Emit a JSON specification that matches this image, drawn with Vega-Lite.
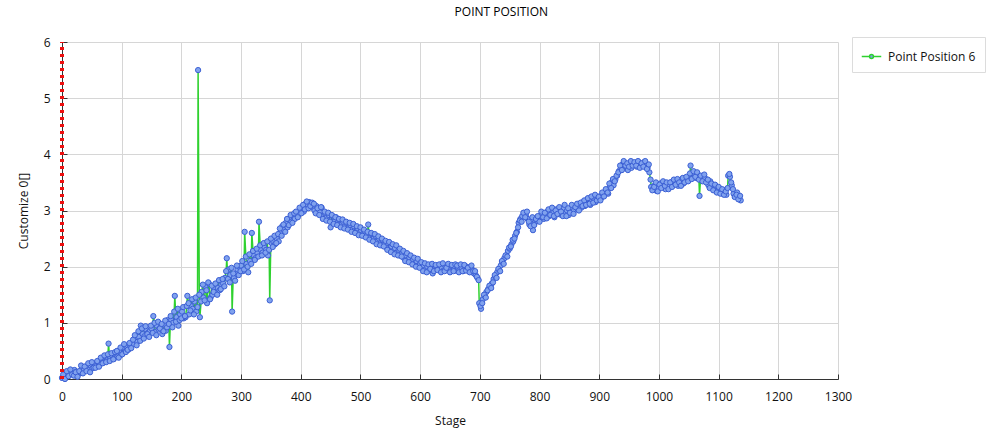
{
"$schema": "https://vega.github.io/schema/vega-lite/v6.json",
"width": 776,
"height": 337,
"autosize": {"type": "none"},
"padding": {"left": 62, "top": 42, "right": 152, "bottom": 65},
"background": "white",
"title": {"text": "POINT POSITION", "fontSize": 12, "fontWeight": "normal", "font": "Open Sans", "color": "#000000", "offset": 17, "anchor": "middle", "frame": "bounds"},
"config": {
  "font": "Open Sans",
  "view": {"stroke": null},
  "axis": {"gridColor": "#d6d6d6", "gridWidth": 1, "domainColor": "#333333", "tickColor": "#333333", "tickSize": -5, "labelPadding": 17, "labelFont": "Open Sans", "labelFontSize": 12, "labelColor": "#111111", "titleFont": "Open Sans", "titleFontSize": 12, "titleFontWeight": "normal", "titleColor": "#111111"}
},
"data": {"values": [
{"stage":0,"value":0.02},{"stage":3,"value":0.06},{"stage":6,"value":0.1},{"stage":9,"value":0.12},{"stage":12,"value":0.09},{"stage":15,"value":0.14},{"stage":18,"value":0.11},{"stage":21,"value":0.16},{"stage":24,"value":0.13},{"stage":27,"value":0.08},
{"stage":30,"value":0.12},{"stage":33,"value":0.18},{"stage":36,"value":0.15},{"stage":39,"value":0.22},{"stage":42,"value":0.2},{"stage":45,"value":0.16},{"stage":48,"value":0.24},{"stage":51,"value":0.19},{"stage":54,"value":0.27},{"stage":57,"value":0.23},
{"stage":60,"value":0.3},{"stage":63,"value":0.26},{"stage":66,"value":0.35},{"stage":69,"value":0.29},{"stage":72,"value":0.4},{"stage":75,"value":0.33},{"stage":78,"value":0.63},{"stage":81,"value":0.38},{"stage":84,"value":0.42},{"stage":87,"value":0.36},
{"stage":90,"value":0.45},{"stage":93,"value":0.4},{"stage":96,"value":0.5},{"stage":99,"value":0.43},{"stage":102,"value":0.55},{"stage":105,"value":0.48},{"stage":108,"value":0.58},{"stage":111,"value":0.52},{"stage":114,"value":0.6},{"stage":117,"value":0.65},
{"stage":120,"value":0.62},{"stage":123,"value":0.7},{"stage":126,"value":0.66},{"stage":129,"value":0.75},{"stage":132,"value":0.95},{"stage":135,"value":0.8},{"stage":138,"value":0.76},{"stage":141,"value":0.88},{"stage":144,"value":0.82},{"stage":147,"value":0.85},
{"stage":150,"value":0.9},{"stage":153,"value":1.12},{"stage":156,"value":0.84},{"stage":159,"value":0.95},{"stage":162,"value":0.88},{"stage":165,"value":0.92},{"stage":168,"value":0.8},{"stage":171,"value":0.97},{"stage":174,"value":0.86},{"stage":177,"value":1.05},
{"stage":180,"value":0.57},{"stage":183,"value":1.05},{"stage":186,"value":1.0},{"stage":189,"value":1.48},{"stage":192,"value":1.1},{"stage":195,"value":0.95},{"stage":198,"value":1.15},{"stage":201,"value":1.2},{"stage":204,"value":1.08},{"stage":207,"value":1.1},
{"stage":210,"value":1.48},{"stage":213,"value":1.15},{"stage":216,"value":1.3},{"stage":219,"value":1.25},{"stage":222,"value":1.38},{"stage":225,"value":1.2},{"stage":228,"value":5.5},{"stage":231,"value":1.1},{"stage":234,"value":1.55},{"stage":237,"value":1.45},
{"stage":240,"value":1.65},{"stage":243,"value":1.35},{"stage":246,"value":1.7},{"stage":249,"value":1.45},{"stage":252,"value":1.5},{"stage":255,"value":1.6},{"stage":258,"value":1.55},{"stage":261,"value":1.62},{"stage":264,"value":1.58},{"stage":267,"value":1.68},
{"stage":270,"value":1.7},{"stage":273,"value":1.8},{"stage":276,"value":2.15},{"stage":279,"value":1.95},{"stage":282,"value":1.85},{"stage":285,"value":1.2},{"stage":288,"value":1.8},{"stage":291,"value":1.88},{"stage":294,"value":1.95},{"stage":297,"value":2.0},
{"stage":300,"value":2.02},{"stage":303,"value":1.92},{"stage":306,"value":2.62},{"stage":309,"value":2.05},{"stage":312,"value":1.9},{"stage":315,"value":2.1},{"stage":318,"value":2.6},{"stage":321,"value":2.2},{"stage":324,"value":2.15},{"stage":327,"value":2.25},
{"stage":330,"value":2.8},{"stage":333,"value":2.3},{"stage":336,"value":2.25},{"stage":339,"value":2.35},{"stage":342,"value":2.3},{"stage":345,"value":2.2},{"stage":348,"value":1.4},{"stage":351,"value":2.42},{"stage":354,"value":2.45},{"stage":357,"value":2.4},
{"stage":360,"value":2.5},{"stage":363,"value":2.45},{"stage":366,"value":2.6},{"stage":369,"value":2.72},{"stage":372,"value":2.65},{"stage":375,"value":2.78},{"stage":378,"value":2.7},{"stage":381,"value":2.85},{"stage":384,"value":2.8},{"stage":387,"value":2.9},
{"stage":390,"value":2.85},{"stage":393,"value":2.95},{"stage":396,"value":2.92},{"stage":399,"value":3.0},{"stage":402,"value":3.05},{"stage":405,"value":2.98},{"stage":408,"value":3.12},{"stage":411,"value":3.08},{"stage":414,"value":3.15},{"stage":417,"value":3.1},
{"stage":420,"value":3.05},{"stage":423,"value":3.0},{"stage":426,"value":3.08},{"stage":429,"value":2.95},{"stage":432,"value":2.98},{"stage":435,"value":3.05},{"stage":438,"value":2.9},{"stage":441,"value":2.95},{"stage":444,"value":2.88},{"stage":447,"value":2.92},
{"stage":450,"value":2.7},{"stage":453,"value":2.9},{"stage":456,"value":2.8},{"stage":459,"value":2.88},{"stage":462,"value":2.78},{"stage":465,"value":2.82},{"stage":468,"value":2.75},{"stage":471,"value":2.8},{"stage":474,"value":2.72},{"stage":477,"value":2.78},
{"stage":480,"value":2.7},{"stage":483,"value":2.74},{"stage":486,"value":2.66},{"stage":489,"value":2.72},{"stage":492,"value":2.62},{"stage":495,"value":2.68},{"stage":498,"value":2.6},{"stage":501,"value":2.65},{"stage":504,"value":2.58},{"stage":507,"value":2.62},
{"stage":510,"value":2.55},{"stage":513,"value":2.75},{"stage":516,"value":2.52},{"stage":519,"value":2.58},{"stage":522,"value":2.5},{"stage":525,"value":2.55},{"stage":528,"value":2.45},{"stage":531,"value":2.5},{"stage":534,"value":2.42},{"stage":537,"value":2.47},
{"stage":540,"value":2.4},{"stage":543,"value":2.35},{"stage":546,"value":2.42},{"stage":549,"value":2.32},{"stage":552,"value":2.36},{"stage":555,"value":2.28},{"stage":558,"value":2.33},{"stage":561,"value":2.25},{"stage":564,"value":2.3},{"stage":567,"value":2.2},
{"stage":570,"value":2.24},{"stage":573,"value":2.15},{"stage":576,"value":2.2},{"stage":579,"value":2.12},{"stage":582,"value":2.16},{"stage":585,"value":2.08},{"stage":588,"value":2.13},{"stage":591,"value":2.05},{"stage":594,"value":2.1},{"stage":597,"value":2.02},
{"stage":600,"value":2.05},{"stage":603,"value":1.98},{"stage":606,"value":2.02},{"stage":609,"value":1.95},{"stage":612,"value":2.0},{"stage":615,"value":1.93},{"stage":618,"value":1.98},{"stage":621,"value":1.88},{"stage":624,"value":1.96},{"stage":627,"value":2.0},
{"stage":630,"value":1.95},{"stage":633,"value":2.0},{"stage":636,"value":1.97},{"stage":639,"value":1.93},{"stage":642,"value":2.02},{"stage":645,"value":1.96},{"stage":648,"value":1.99},{"stage":651,"value":1.94},{"stage":654,"value":2.0},{"stage":657,"value":1.97},
{"stage":660,"value":1.93},{"stage":663,"value":1.98},{"stage":666,"value":1.95},{"stage":669,"value":1.99},{"stage":672,"value":1.92},{"stage":675,"value":1.96},{"stage":678,"value":2.0},{"stage":681,"value":1.97},{"stage":684,"value":1.93},{"stage":687,"value":1.95},
{"stage":690,"value":1.88},{"stage":693,"value":1.85},{"stage":696,"value":1.8},{"stage":699,"value":1.35},{"stage":702,"value":1.25},{"stage":705,"value":1.42},{"stage":708,"value":1.48},{"stage":711,"value":1.55},{"stage":714,"value":1.6},{"stage":717,"value":1.65},
{"stage":720,"value":1.7},{"stage":723,"value":1.78},{"stage":726,"value":1.82},{"stage":729,"value":1.9},{"stage":732,"value":1.95},{"stage":735,"value":2.02},{"stage":738,"value":2.08},{"stage":741,"value":2.15},{"stage":744,"value":2.2},{"stage":747,"value":2.28},
{"stage":750,"value":2.32},{"stage":753,"value":2.4},{"stage":756,"value":2.45},{"stage":759,"value":2.55},{"stage":762,"value":2.62},{"stage":765,"value":2.78},{"stage":768,"value":2.85},{"stage":771,"value":2.9},{"stage":774,"value":2.96},{"stage":777,"value":2.92},
{"stage":780,"value":2.85},{"stage":783,"value":2.75},{"stage":786,"value":2.8},{"stage":789,"value":2.65},{"stage":792,"value":2.78},{"stage":795,"value":2.82},{"stage":798,"value":2.88},{"stage":801,"value":2.9},{"stage":804,"value":2.95},{"stage":807,"value":2.85},
{"stage":810,"value":2.92},{"stage":813,"value":2.98},{"stage":816,"value":2.9},{"stage":819,"value":3.0},{"stage":822,"value":2.95},{"stage":825,"value":2.88},{"stage":828,"value":3.02},{"stage":831,"value":2.96},{"stage":834,"value":2.93},{"stage":837,"value":3.0},
{"stage":840,"value":3.04},{"stage":843,"value":2.95},{"stage":846,"value":3.0},{"stage":849,"value":2.92},{"stage":852,"value":2.98},{"stage":855,"value":3.05},{"stage":858,"value":3.0},{"stage":861,"value":3.08},{"stage":864,"value":3.02},{"stage":867,"value":3.1},
{"stage":870,"value":3.05},{"stage":873,"value":3.15},{"stage":876,"value":3.08},{"stage":879,"value":3.12},{"stage":882,"value":3.2},{"stage":885,"value":3.1},{"stage":888,"value":3.18},{"stage":891,"value":3.22},{"stage":894,"value":3.15},{"stage":897,"value":3.2},
{"stage":900,"value":3.25},{"stage":903,"value":3.22},{"stage":906,"value":3.3},{"stage":909,"value":3.28},{"stage":912,"value":3.35},{"stage":915,"value":3.3},{"stage":918,"value":3.42},{"stage":921,"value":3.5},{"stage":924,"value":3.45},{"stage":927,"value":3.55},
{"stage":930,"value":3.62},{"stage":933,"value":3.7},{"stage":936,"value":3.75},{"stage":939,"value":3.82},{"stage":942,"value":3.86},{"stage":945,"value":3.78},{"stage":948,"value":3.72},{"stage":951,"value":3.8},{"stage":954,"value":3.76},{"stage":957,"value":3.84},
{"stage":960,"value":3.84},{"stage":963,"value":3.78},{"stage":966,"value":3.86},{"stage":969,"value":3.8},{"stage":972,"value":3.83},{"stage":975,"value":3.86},{"stage":978,"value":3.8},{"stage":981,"value":3.76},{"stage":984,"value":3.68},{"stage":987,"value":3.42},
{"stage":990,"value":3.38},{"stage":993,"value":3.45},{"stage":996,"value":3.35},{"stage":999,"value":3.4},{"stage":1002,"value":3.48},{"stage":1005,"value":3.42},{"stage":1008,"value":3.5},{"stage":1011,"value":3.38},{"stage":1014,"value":3.46},{"stage":1017,"value":3.44},
{"stage":1020,"value":3.5},{"stage":1023,"value":3.45},{"stage":1026,"value":3.52},{"stage":1029,"value":3.48},{"stage":1032,"value":3.44},{"stage":1035,"value":3.5},{"stage":1038,"value":3.55},{"stage":1041,"value":3.48},{"stage":1044,"value":3.52},{"stage":1047,"value":3.58},
{"stage":1050,"value":3.6},{"stage":1053,"value":3.8},{"stage":1056,"value":3.62},{"stage":1059,"value":3.66},{"stage":1062,"value":3.58},{"stage":1065,"value":3.64},{"stage":1068,"value":3.26},{"stage":1071,"value":3.6},{"stage":1074,"value":3.55},{"stage":1077,"value":3.58},
{"stage":1080,"value":3.5},{"stage":1083,"value":3.45},{"stage":1086,"value":3.52},{"stage":1089,"value":3.42},{"stage":1092,"value":3.38},{"stage":1095,"value":3.44},{"stage":1098,"value":3.35},{"stage":1101,"value":3.4},{"stage":1104,"value":3.32},{"stage":1107,"value":3.3},
{"stage":1110,"value":3.36},{"stage":1113,"value":3.28},{"stage":1116,"value":3.62},{"stage":1119,"value":3.6},{"stage":1122,"value":3.45},{"stage":1125,"value":3.3},{"stage":1128,"value":3.25},{"stage":1131,"value":3.32},{"stage":1134,"value":3.22},{"stage":1137,"value":3.18},
{"stage":2,"value":0.08},{"stage":5,"value":0.0},{"stage":8,"value":0.14},{"stage":11,"value":0.05},{"stage":14,"value":0.17},{"stage":17,"value":0.08},{"stage":20,"value":0.06},{"stage":23,"value":0.12},{"stage":26,"value":0.04},{"stage":29,"value":0.14},
{"stage":32,"value":0.24},{"stage":35,"value":0.1},{"stage":38,"value":0.22},{"stage":41,"value":0.14},{"stage":44,"value":0.28},{"stage":47,"value":0.12},{"stage":50,"value":0.3},{"stage":53,"value":0.2},{"stage":56,"value":0.2},{"stage":59,"value":0.32},
{"stage":62,"value":0.22},{"stage":65,"value":0.38},{"stage":68,"value":0.28},{"stage":71,"value":0.42},{"stage":74,"value":0.3},{"stage":77,"value":0.44},{"stage":80,"value":0.32},{"stage":83,"value":0.46},{"stage":86,"value":0.35},{"stage":89,"value":0.48},
{"stage":92,"value":0.5},{"stage":95,"value":0.38},{"stage":98,"value":0.56},{"stage":101,"value":0.44},{"stage":104,"value":0.62},{"stage":107,"value":0.48},{"stage":110,"value":0.52},{"stage":113,"value":0.64},{"stage":116,"value":0.55},{"stage":119,"value":0.7},
{"stage":122,"value":0.78},{"stage":125,"value":0.6},{"stage":128,"value":0.85},{"stage":131,"value":0.68},{"stage":134,"value":0.9},{"stage":137,"value":0.72},{"stage":140,"value":0.94},{"stage":143,"value":0.8},{"stage":146,"value":0.75},{"stage":149,"value":0.95},
{"stage":152,"value":0.82},{"stage":155,"value":1.0},{"stage":158,"value":0.78},{"stage":161,"value":1.02},{"stage":164,"value":0.9},{"stage":167,"value":0.98},{"stage":170,"value":0.85},{"stage":173,"value":1.04},{"stage":176,"value":0.92},{"stage":179,"value":0.98},
{"stage":182,"value":1.12},{"stage":185,"value":0.92},{"stage":188,"value":1.2},{"stage":191,"value":1.02},{"stage":194,"value":1.25},{"stage":197,"value":1.05},{"stage":200,"value":1.08},{"stage":203,"value":1.28},{"stage":206,"value":1.12},{"stage":209,"value":1.3},
{"stage":212,"value":1.35},{"stage":215,"value":1.22},{"stage":218,"value":1.42},{"stage":221,"value":1.15},{"stage":224,"value":1.45},{"stage":227,"value":1.28},{"stage":230,"value":1.5},{"stage":233,"value":1.38},{"stage":236,"value":1.68},{"stage":239,"value":1.4},
{"stage":242,"value":1.58},{"stage":245,"value":1.72},{"stage":248,"value":1.42},{"stage":251,"value":1.66},{"stage":254,"value":1.55},{"stage":257,"value":1.7},{"stage":260,"value":1.5},{"stage":263,"value":1.76},{"stage":266,"value":1.6},{"stage":269,"value":1.78},
{"stage":272,"value":1.65},{"stage":275,"value":1.92},{"stage":278,"value":1.78},{"stage":281,"value":1.72},{"stage":284,"value":1.98},{"stage":287,"value":1.88},{"stage":290,"value":1.75},{"stage":293,"value":2.02},{"stage":296,"value":1.85},{"stage":299,"value":1.92},
{"stage":302,"value":2.1},{"stage":305,"value":1.95},{"stage":308,"value":2.18},{"stage":311,"value":2.0},{"stage":314,"value":2.22},{"stage":317,"value":2.05},{"stage":320,"value":2.28},{"stage":323,"value":2.12},{"stage":326,"value":2.32},{"stage":329,"value":2.18},
{"stage":332,"value":2.38},{"stage":335,"value":2.2},{"stage":338,"value":2.42},{"stage":341,"value":2.25},{"stage":344,"value":2.45},{"stage":347,"value":2.3},{"stage":350,"value":2.5},{"stage":353,"value":2.35},{"stage":356,"value":2.55},{"stage":359,"value":2.42},
{"stage":362,"value":2.58},{"stage":365,"value":2.68},{"stage":368,"value":2.55},{"stage":371,"value":2.75},{"stage":374,"value":2.62},{"stage":377,"value":2.85},{"stage":380,"value":2.74},{"stage":383,"value":2.92},{"stage":386,"value":2.78},{"stage":389,"value":2.95},
{"stage":392,"value":2.98},{"stage":395,"value":2.88},{"stage":398,"value":3.05},{"stage":401,"value":2.95},{"stage":404,"value":3.1},{"stage":407,"value":3.02},{"stage":410,"value":3.16},{"stage":413,"value":3.04},{"stage":416,"value":3.08},{"stage":419,"value":3.14},
{"stage":422,"value":3.12},{"stage":425,"value":2.95},{"stage":428,"value":3.04},{"stage":431,"value":2.92},{"stage":434,"value":3.06},{"stage":437,"value":2.85},{"stage":440,"value":2.98},{"stage":443,"value":2.82},{"stage":446,"value":2.96},{"stage":449,"value":2.8},
{"stage":452,"value":2.92},{"stage":455,"value":2.76},{"stage":458,"value":2.88},{"stage":461,"value":2.74},{"stage":464,"value":2.85},{"stage":467,"value":2.7},{"stage":470,"value":2.84},{"stage":473,"value":2.68},{"stage":476,"value":2.8},{"stage":479,"value":2.66},
{"stage":482,"value":2.78},{"stage":485,"value":2.62},{"stage":488,"value":2.76},{"stage":491,"value":2.6},{"stage":494,"value":2.72},{"stage":497,"value":2.56},{"stage":500,"value":2.7},{"stage":503,"value":2.55},{"stage":506,"value":2.66},{"stage":509,"value":2.52},
{"stage":512,"value":2.62},{"stage":515,"value":2.48},{"stage":518,"value":2.6},{"stage":521,"value":2.45},{"stage":524,"value":2.58},{"stage":527,"value":2.4},{"stage":530,"value":2.54},{"stage":533,"value":2.38},{"stage":536,"value":2.5},{"stage":539,"value":2.36},
{"stage":542,"value":2.46},{"stage":545,"value":2.3},{"stage":548,"value":2.44},{"stage":551,"value":2.26},{"stage":554,"value":2.4},{"stage":557,"value":2.22},{"stage":560,"value":2.38},{"stage":563,"value":2.2},{"stage":566,"value":2.32},{"stage":569,"value":2.18},
{"stage":572,"value":2.28},{"stage":575,"value":2.1},{"stage":578,"value":2.24},{"stage":581,"value":2.08},{"stage":584,"value":2.2},{"stage":587,"value":2.04},{"stage":590,"value":2.16},{"stage":593,"value":2.0},{"stage":596,"value":2.14},{"stage":599,"value":1.98},
{"stage":602,"value":2.08},{"stage":605,"value":1.92},{"stage":608,"value":2.06},{"stage":611,"value":1.9},{"stage":614,"value":2.04},{"stage":617,"value":1.96},{"stage":620,"value":2.05},{"stage":623,"value":1.92},{"stage":626,"value":2.03},{"stage":629,"value":1.94},
{"stage":632,"value":2.04},{"stage":635,"value":1.9},{"stage":638,"value":2.06},{"stage":641,"value":1.92},{"stage":644,"value":1.98},{"stage":647,"value":2.05},{"stage":650,"value":1.9},{"stage":653,"value":2.03},{"stage":656,"value":1.92},{"stage":659,"value":2.04},
{"stage":662,"value":2.02},{"stage":665,"value":1.9},{"stage":668,"value":2.04},{"stage":671,"value":1.92},{"stage":674,"value":2.03},{"stage":677,"value":1.93},{"stage":680,"value":1.98},{"stage":683,"value":1.9},{"stage":686,"value":2.02},{"stage":689,"value":1.92},
{"stage":692,"value":1.92},{"stage":695,"value":1.82},{"stage":698,"value":1.76},{"stage":701,"value":1.3},{"stage":704,"value":1.35},{"stage":707,"value":1.5},{"stage":710,"value":1.45},{"stage":713,"value":1.58},{"stage":716,"value":1.66},{"stage":719,"value":1.62},
{"stage":722,"value":1.72},{"stage":725,"value":1.85},{"stage":728,"value":1.8},{"stage":731,"value":1.96},{"stage":734,"value":1.92},{"stage":737,"value":2.1},{"stage":740,"value":2.05},{"stage":743,"value":2.2},{"stage":746,"value":2.18},{"stage":749,"value":2.34},
{"stage":752,"value":2.36},{"stage":755,"value":2.48},{"stage":758,"value":2.5},{"stage":761,"value":2.6},{"stage":764,"value":2.7},{"stage":767,"value":2.82},{"stage":770,"value":2.8},{"stage":773,"value":2.96},{"stage":776,"value":2.88},{"stage":779,"value":2.98},
{"stage":782,"value":2.8},{"stage":785,"value":2.72},{"stage":788,"value":2.88},{"stage":791,"value":2.74},{"stage":794,"value":2.85},{"stage":797,"value":2.9},{"stage":800,"value":2.8},{"stage":803,"value":2.98},{"stage":806,"value":2.88},{"stage":809,"value":2.96},
{"stage":812,"value":2.86},{"stage":815,"value":3.02},{"stage":818,"value":2.92},{"stage":821,"value":3.05},{"stage":824,"value":2.9},{"stage":827,"value":3.0},{"stage":830,"value":2.94},{"stage":833,"value":3.06},{"stage":836,"value":2.98},{"stage":839,"value":2.9},
{"stage":842,"value":3.1},{"stage":845,"value":2.9},{"stage":848,"value":3.04},{"stage":851,"value":2.96},{"stage":854,"value":3.1},{"stage":857,"value":2.94},{"stage":860,"value":3.06},{"stage":863,"value":3.12},{"stage":866,"value":3.0},{"stage":869,"value":3.14},
{"stage":872,"value":3.08},{"stage":875,"value":3.18},{"stage":878,"value":3.1},{"stage":881,"value":3.22},{"stage":884,"value":3.12},{"stage":887,"value":3.25},{"stage":890,"value":3.14},{"stage":893,"value":3.28},{"stage":896,"value":3.18},{"stage":899,"value":3.24},
{"stage":902,"value":3.18},{"stage":905,"value":3.32},{"stage":908,"value":3.25},{"stage":911,"value":3.38},{"stage":914,"value":3.32},{"stage":917,"value":3.48},{"stage":920,"value":3.4},{"stage":923,"value":3.56},{"stage":926,"value":3.52},{"stage":929,"value":3.62},
{"stage":932,"value":3.68},{"stage":935,"value":3.8},{"stage":938,"value":3.72},{"stage":941,"value":3.88},{"stage":944,"value":3.8},{"stage":947,"value":3.84},{"stage":950,"value":3.78},{"stage":953,"value":3.88},{"stage":956,"value":3.8},{"stage":959,"value":3.86},
{"stage":962,"value":3.8},{"stage":965,"value":3.88},{"stage":968,"value":3.76},{"stage":971,"value":3.84},{"stage":974,"value":3.78},{"stage":977,"value":3.88},{"stage":980,"value":3.74},{"stage":983,"value":3.82},{"stage":986,"value":3.55},{"stage":989,"value":3.36},
{"stage":992,"value":3.42},{"stage":995,"value":3.5},{"stage":998,"value":3.34},{"stage":1001,"value":3.46},{"stage":1004,"value":3.4},{"stage":1007,"value":3.52},{"stage":1010,"value":3.44},{"stage":1013,"value":3.5},{"stage":1016,"value":3.38},{"stage":1019,"value":3.5},
{"stage":1022,"value":3.42},{"stage":1025,"value":3.55},{"stage":1028,"value":3.46},{"stage":1031,"value":3.56},{"stage":1034,"value":3.5},{"stage":1037,"value":3.44},{"stage":1040,"value":3.58},{"stage":1043,"value":3.5},{"stage":1046,"value":3.6},{"stage":1049,"value":3.52},
{"stage":1052,"value":3.66},{"stage":1055,"value":3.56},{"stage":1058,"value":3.7},{"stage":1061,"value":3.6},{"stage":1064,"value":3.68},{"stage":1067,"value":3.55},{"stage":1070,"value":3.62},{"stage":1073,"value":3.52},{"stage":1076,"value":3.64},{"stage":1079,"value":3.5},
{"stage":1082,"value":3.55},{"stage":1085,"value":3.4},{"stage":1088,"value":3.48},{"stage":1091,"value":3.36},{"stage":1094,"value":3.46},{"stage":1097,"value":3.32},{"stage":1100,"value":3.42},{"stage":1103,"value":3.3},{"stage":1106,"value":3.38},{"stage":1109,"value":3.28},
{"stage":1112,"value":3.34},{"stage":1115,"value":3.4},{"stage":1118,"value":3.65},{"stage":1121,"value":3.5},{"stage":1124,"value":3.38},{"stage":1127,"value":3.24},{"stage":1130,"value":3.28},{"stage":1133,"value":3.2},{"stage":1136,"value":3.26}
]},
"encoding": {
  "x": {"field": "stage", "type": "quantitative", "scale": {"domain": [0, 1300], "nice": false, "zero": false},
        "axis": {"title": "Stage", "format": "d", "values": [0,100,200,300,400,500,600,700,800,900,1000,1100,1200,1300], "titlePadding": 13, "labelFlush": false}},
  "y": {"field": "value", "type": "quantitative", "scale": {"domain": [0, 6], "nice": false},
        "axis": {"title": "Customize 0[]", "values": [0,1,2,3,4,5,6], "titlePadding": 13}}
},
"layer": [
  {"mark": {"type": "line", "strokeWidth": 1.5},
   "encoding": {"color": {"datum": "Point Position 6", "scale": {"range": ["#2fd12f"]},
     "legend": {"title": null, "orient": "none", "legendX": 790, "legendY": -5, "padding": 9, "strokeColor": "#dcdcdc", "fillColor": "#ffffff",
       "symbolType": "M-1,0L-0.2,0M0.2,0L1,0M-0.2,0A0.2,0.2 0 1,1 0.2,0A0.2,0.2 0 1,1 -0.2,0Z",
       "symbolSize": 380, "labelFontSize": 12, "labelFont": "Open Sans", "labelColor": "#111111", "labelOffset": 6,
       "encode": {"symbols": {"update": {"fill": {"value": "#7fa0ee"}, "stroke": {"value": "#2fd12f"}, "strokeWidth": {"value": 1.5}, "opacity": {"value": 1}}}}}}}},
  {"mark": {"type": "point", "shape": "circle", "filled": true, "fill": "#80a2ee", "stroke": "#3b5fd4", "strokeWidth": 1, "size": 28, "opacity": 1}},
  {"mark": {"type": "rule", "color": "#ee1111", "strokeWidth": 2.5, "strokeDash": [3, 4]},
   "encoding": {"x": {"datum": 0}, "y": {"datum": 0}, "y2": {"datum": 6}}}
]
}
